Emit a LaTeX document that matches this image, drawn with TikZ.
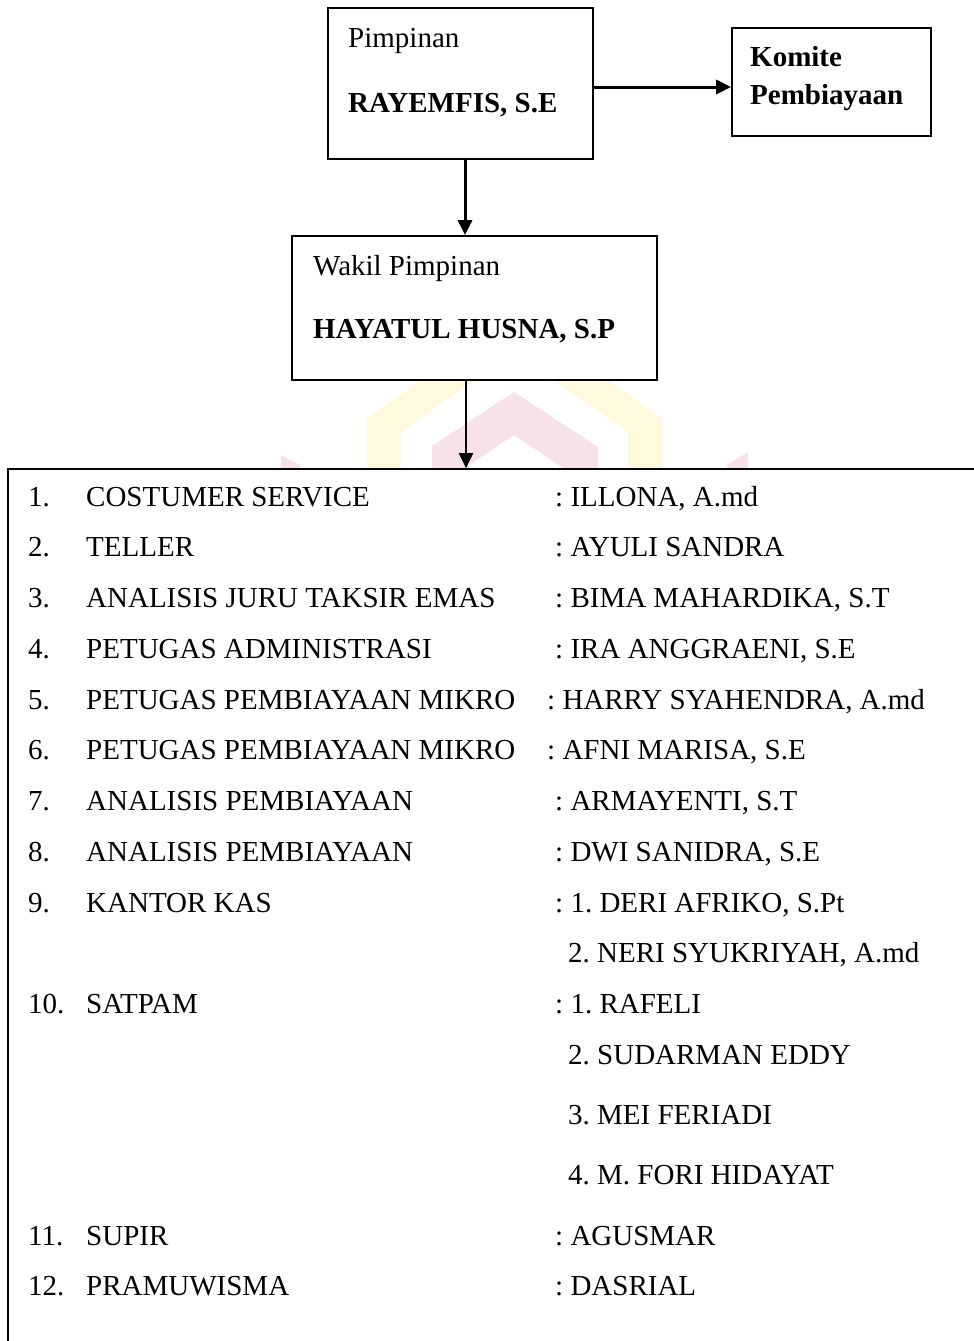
\documentclass[tikz,border=0pt]{standalone}
\usepackage{fontspec}
\setmainfont{Liberation Serif}
\usetikzlibrary{arrows.meta}
\definecolor{wmpink}{RGB}{247,226,231}
\definecolor{wmyellow}{RGB}{255,249,222}
\begin{document}
\frenchspacing
\begin{tikzpicture}[x=1pt,y=-1pt,
  box/.style={draw,line width=1.7pt,fill=white,inner sep=0pt},
  txt/.style={anchor=base west,inner sep=0pt,font=\fontsize{29}{35}\selectfont\frenchspacing},
  btxt/.style={anchor=base west,inner sep=0pt,font=\fontsize{29}{35}\selectfont\bfseries\frenchspacing},
  arrthick/.style={line width=3pt,-{Triangle[length=15pt,width=14pt]}},
  arrthin/.style={line width=2pt,-{Triangle[length=15pt,width=14pt]}}]
\useasboundingbox (0,0) rectangle (974,1341);
\clip (0,0) rectangle (974,1341);
% faint watermark
\fill[wmyellow] (367,472) -- (367,418) -- (428,376) -- (481,376) -- (401,432) -- (401,472) -- cycle;
\fill[wmyellow] (662,472) -- (662,418) -- (601,376) -- (548,376) -- (628,432) -- (628,472) -- cycle;
\fill[wmpink] (432,472) -- (432,446) -- (514,392) -- (598,447) -- (598,472) -- (562,472) -- (562,467) -- (514,435) -- (469,465) -- (469,472) -- cycle;
\fill[wmpink] (281,455) -- (300,465) -- (300,472) -- (281,472) -- cycle;
\fill[wmpink] (748,452) -- (748,472) -- (727,472) -- (727,465) -- cycle;
% boxes
\node[box,minimum width=265pt,minimum height=151pt] (pim) at (460.5,83.5) {};
\node[box,minimum width=199pt,minimum height=108pt] (kom) at (831.5,82) {};
\node[box,minimum width=365pt,minimum height=144pt] (wak) at (474.5,308) {};
\node[box,minimum width=992pt,minimum height=931pt] (lst) at (504,934.5) {};
% box texts
\node[txt] (pimT) at (348,47) {Pimpinan};
\node[btxt] (pimN) at (348,112) {RAYEMFIS, S.E};
\node[btxt] (komA) at (750,66) {Komite};
\node[btxt] (komB) at (750,104) {Pembiayaan};
\node[txt] (wakT) at (313,275) {Wakil Pimpinan};
\node[btxt] (wakN) at (313,338) {HAYATUL HUSNA, S.P};
% connectors
\draw[arrthick] (pim.east |- 0,87) -- (kom.west |- 0,87);
\draw[arrthick] (pim.south -| 465,0) -- (wak.north -| 465,0);
\draw[arrthin] (wak.south -| 466,0) -- (lst.north -| 466,0);
% list
\node[txt] (n1) at (28,506) {1.};
\node[txt] (l1) at (86,506) {COSTUMER SERVICE};
\node[txt] (v1) at (555,506) {: ILLONA, A.md};
\node[txt] (n2) at (28,556.75) {2.};
\node[txt] (l2) at (86,556.75) {TELLER};
\node[txt] (v2) at (555,556.75) {: AYULI SANDRA};
\node[txt] (n3) at (28,607.5) {3.};
\node[txt] (l3) at (86,607.5) {ANALISIS JURU TAKSIR EMAS};
\node[txt] (v3) at (555,607.5) {: BIMA MAHARDIKA, S.T};
\node[txt] (n4) at (28,658.25) {4.};
\node[txt] (l4) at (86,658.25) {PETUGAS ADMINISTRASI};
\node[txt] (v4) at (555,658.25) {: IRA ANGGRAENI, S.E};
\node[txt] (n5) at (28,709) {5.};
\node[txt] (l5) at (86,709) {PETUGAS PEMBIAYAAN MIKRO};
\node[txt] (v5) at (547,709) {: HARRY SYAHENDRA, A.md};
\node[txt] (n6) at (28,759.75) {6.};
\node[txt] (l6) at (86,759.75) {PETUGAS PEMBIAYAAN MIKRO};
\node[txt] (v6) at (547,759.75) {: AFNI MARISA, S.E};
\node[txt] (n7) at (28,810.5) {7.};
\node[txt] (l7) at (86,810.5) {ANALISIS PEMBIAYAAN};
\node[txt] (v7) at (555,810.5) {: ARMAYENTI, S.T};
\node[txt] (n8) at (28,861.25) {8.};
\node[txt] (l8) at (86,861.25) {ANALISIS PEMBIAYAAN};
\node[txt] (v8) at (555,861.25) {: DWI SANIDRA, S.E};
\node[txt] (n9) at (28,912) {9.};
\node[txt] (l9) at (86,912) {KANTOR KAS};
\node[txt] (v9) at (555,912) {: 1. DERI AFRIKO, S.Pt};
\node[txt] (v9b) at (568,962.75) {2. NERI SYUKRIYAH, A.md};
\node[txt] (n10) at (28,1013.5) {10.};
\node[txt] (l10) at (86,1013.5) {SATPAM};
\node[txt] (v10) at (555,1013.5) {: 1. RAFELI};
\node[txt] (v10b) at (568,1064.25) {2. SUDARMAN EDDY};
\node[txt] (v10c) at (568,1124) {3. MEI FERIADI};
\node[txt] (v10d) at (568,1184) {4. M. FORI HIDAYAT};
\node[txt] (n11) at (28,1245) {11.};
\node[txt] (l11) at (86,1245) {SUPIR};
\node[txt] (v11) at (555,1245) {: AGUSMAR};
\node[txt] (n12) at (28,1295) {12.};
\node[txt] (l12) at (86,1295) {PRAMUWISMA};
\node[txt] (v12) at (555,1295) {: DASRIAL};
\end{tikzpicture}
\end{document}
